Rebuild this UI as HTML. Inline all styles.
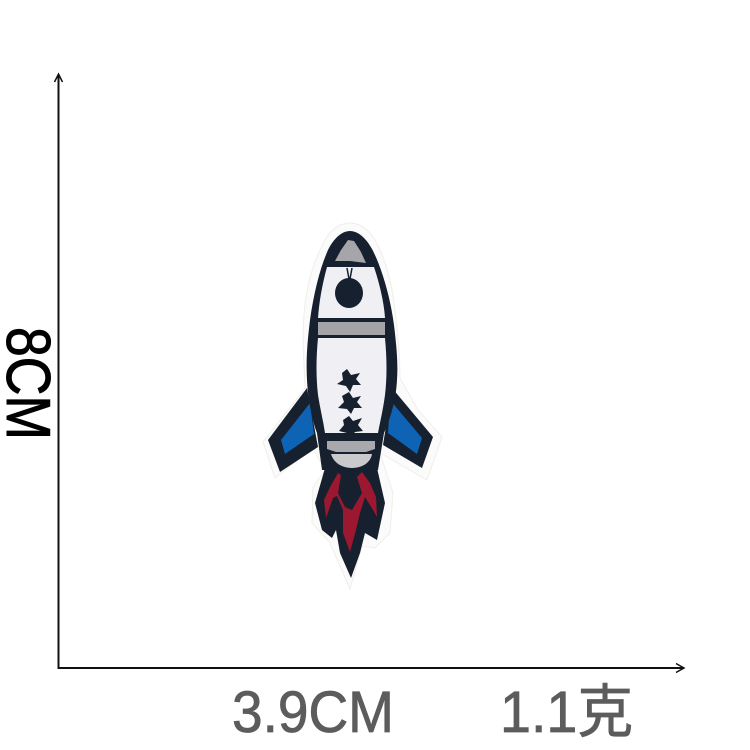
<!DOCTYPE html>
<html lang="zh">
<head>
<meta charset="utf-8">
<title>Rocket patch dimensions</title>
<style>
html,body{margin:0;padding:0;background:#fff;width:750px;height:750px;overflow:hidden}
svg{display:block}
text{font-family:"Liberation Sans","Noto Sans CJK SC",sans-serif}
</style>
</head>
<body>
<svg width="750" height="750" viewBox="0 0 750 750">
  <rect width="750" height="750" fill="#fff"/>

  <g>
    <line x1="58.5" y1="669" x2="58.5" y2="75" stroke="#111" stroke-width="2"/>
    <path d="M54.5,82 L58.5,74 L62.5,82" fill="none" stroke="#111" stroke-width="1.5"/>
    <line x1="58" y1="668" x2="684" y2="668" stroke="#111" stroke-width="2"/>
    <path d="M676,663.5 L684,668 L676,672.5" fill="none" stroke="#111" stroke-width="1.5"/>
  </g>

  <g>
    <path d="M350,223 C362,223 372,232 378,246 C386,262 392,284 395,310 C398,335 400,358 400,378 L418,410 L442,437 L427,480 L380,453 L393,493 L390,533 L375,548 L362,546 L350,589 L330,543 L312,523 L313,487 L325,470 L313,448 L275,478 L263,442 L288,410 L305,388 C304,360 302,340 304,315 C306,285 314,262 322,246 C328,232 338,223 350,223 Z" fill="#fbfbfb" stroke="#efeee8" stroke-width="1"/>

    <g>
      <path d="M307,388 L268,440 L280,472 L318,447 Z" fill="#16202e"/>
      <path d="M310,403 L281,440 L285,454 L314,434 Z" fill="#0e63b5"/>
    </g>
    <g>
      <path d="M392,388 L433,437 L422,468 L383,445 Z" fill="#16202e"/>
      <path d="M390,400 L422,438 L417,454 L388,433 Z" fill="#0e63b5"/>
    </g>

    <path d="M325,468 L315,503 L322,530 L332,538 L336,530 L340,553 L351,578 L360,553 L365,533 L377,540 L385,503 L377,468 Z" fill="#16202e"/>
    <path d="M338,473 L330,487 L324,500 L326,518 L333,498 L337,496 L343,510 L343,533 L350,552 L356,530 L360,513 L365,497 L373,510 L377,517 L376,497 L370,483 L362,472 L357,477 L362,493 L352,510 L345,507 L338,493 L341,475 Z" fill="#9b1830"/>

    <path d="M350,231 C358,231 366,238 372,249 C381,266 390,295 394,325 C397,350 398,365 397,380 C396,400 390,420 384,433 L378,470 L322,470 L317,433 C312,420 308,400 307,380 C306,360 307,345 310,320 C314,292 320,268 328,250 C334,238 342,231 350,231 Z" fill="#16202e"/>

    <path d="M335,261 L341,250 L348,240 L354,241 L361,252 L366,263 L350,261 Z" fill="#a5a5aa"/>
    <path d="M327,267 L374,267 C380,285 384,303 385,318 L318,318 C319,303 322,285 327,267 Z" fill="#f0f0f4"/>
    <path d="M347,268 L349,279 M352,268 L350,279" stroke="#16202e" stroke-width="1.5" fill="none"/>
    <ellipse cx="349" cy="293" rx="14" ry="15" fill="#16202e"/>
    <rect x="318" y="322" width="67" height="13" fill="#a3a3a8"/>
    <path d="M318,338 L385,338 C387,360 387,378 385,395 C383,410 380,422 378,433 L325,433 C323,420 320,408 318,395 C316,378 316,358 318,338 Z" fill="#f0f0f4"/>

    <g fill="#16202e">
      <polygon points="347,369 351,375 360,373 356,379 361,385 353,385 350,392 346,386 337,384 343,380 342,373"/>
      <polygon points="349,392 353,398 361,396 357,402 362,408 354,408 351,414 347,409 338,408 344,402 342,396"/>
      <polygon points="349,416 353,421 362,418 358,425 363,431 355,432 351,437 347,433 339,431 344,425 343,420"/>
    </g>

    <path d="M327,441 L375,441 L375,449 L366,452 L336,452 L327,449 Z" fill="#a8a8ad"/>
    <path d="M331,454 L372,454 C371,461 364,468 352,468 C340,468 333,461 331,454 Z" fill="#c9c9ce"/>
  </g>

  <text x="0" y="0" transform="translate(7,327) rotate(90)" font-size="62" fill="#000" stroke="#000" stroke-width="1" textLength="113" lengthAdjust="spacingAndGlyphs">8CM</text>
  <text x="232" y="732" font-size="58" fill="#5c5c5c" stroke="#5c5c5c" stroke-width="0.8" textLength="162" lengthAdjust="spacingAndGlyphs">3.9CM</text>
  <text x="500" y="732" font-size="58" fill="#5c5c5c" stroke="#5c5c5c" stroke-width="0.8" textLength="133" lengthAdjust="spacingAndGlyphs">1.1克</text>
</svg>
</body>
</html>
